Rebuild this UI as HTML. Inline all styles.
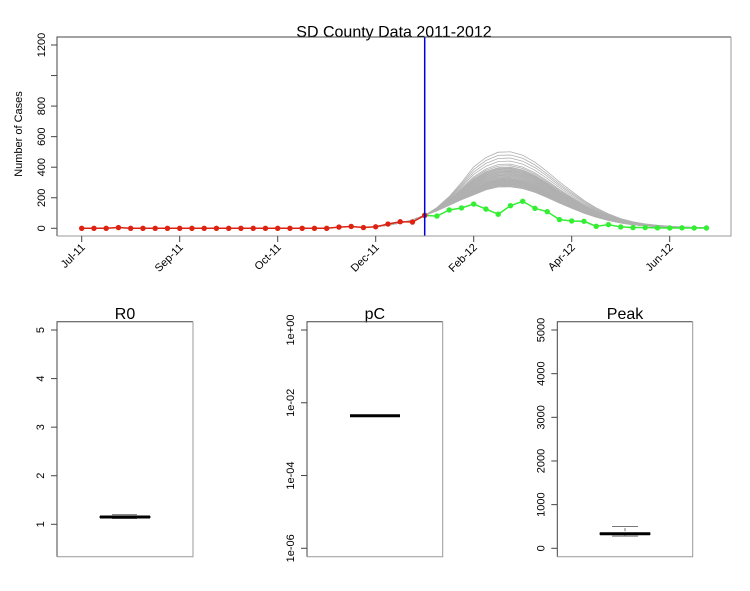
<!DOCTYPE html>
<html><head><meta charset="utf-8"><style>
body{margin:0;background:#fff;width:750px;height:586px;overflow:hidden}
svg{font-family:"Liberation Sans",sans-serif}
</style></head><body>
<svg id="s" width="750" height="586"></svg>
<script>
const xLabels=["Jul-11","Sep-11","Oct-11","Dec-11","Feb-12","Apr-12","Jun-12"];
const xTickIdx=[0,8,16,24,32,40,48];
const yTicks=[0,200,400,600,800,1000,1200];
const yTickLabels=["0","200","400","600","800","","1200"];
const observedRed=[0,0,0,5,0,0,0,0,0,0,0,0,0,0,0,0,0,0,0,0,0,8,12,5,10,28,43,41,85];
const observedGreen=[85,80,120,133,159,126,92,148,177,131,109,57,48,46,13,24,9,5,5,3,2,3,2,2];
const simShape=[10,20,35,55,85,120,165,215,265,305,328,330,315,285,245,200,160,120,88,62,42,28,19,13,9,6,4,3];
const simPeaks=[272,276,280,283,285,288,290,293,295,298,300,303,305,308,310,313,315,318,320,323,325,330,335,340,345,350,355,360,365,370,375,380,385,390,395,400,410,420,440,460,480,501];
const r0Stats=[1.12,1.14,1.15,1.16,1.2];
const pcStats=[0.0044,0.0044,0.0044,0.0044,0.0044];
const peakStats=[280,320,334,350,500];
const NS='http://www.w3.org/2000/svg';
const s=document.getElementById('s');
function el(t,a,p){const e=document.createElementNS(NS,t);for(const k in a)e.setAttribute(k,a[k]);(p||s).appendChild(e);return e;}
const X=i=>81.7+i*12.25, Y=v=>228.3-v*0.15275;
const g=el('g',{});
let t=el('text',{x:394,y:37,'font-size':16,'text-anchor':'middle'},g);t.textContent='SD County Data 2011-2012';

const peakMax=Math.max(...simShape);
simPeaks.forEach(pk=>{const f=pk/peakMax;let d='';simShape.forEach((v,j)=>{const i=24+j;const w=Math.min(1,Math.max(0,(i-28)/4));const val=v*(1+(f-1)*w);d+=(j?'L':'M')+X(i).toFixed(1)+','+Y(val).toFixed(1);});
const p=el('path',{d:d,fill:'none',stroke:'#b0b0b0','stroke-width':0.8},g);

});
function series(vals,off,col,name){let d='';vals.forEach((v,j)=>d+=(j?'L':'M')+X(off+j)+','+Y(v));
const p=el('path',{d:d,fill:'none',stroke:col,'stroke-width':1.5},g);


vals.forEach((v,j)=>{const c=el('circle',{cx:X(off+j),cy:Y(v),r:2.7,fill:col},g);

});}
series(observedGreen,28,'#33ee33','green-observed');
series(observedRed,0,'#dd2211','red-observed');
let bl=el('line',{x1:X(28),x2:X(28),y1:37,y2:236,stroke:'#0000dd','stroke-width':1.5},g);

el('path',{d:'M57,236V37H731',fill:'none',stroke:'#444'},g);
el('path',{d:'M731,37V236H57',fill:'none',stroke:'#999'},g);
yTicks.forEach((v,k)=>{el('line',{x1:51,x2:57,y1:Y(v),y2:Y(v),stroke:'#444'},g);
const tx=el('text',{x:45,y:Y(v),'font-size':11,'text-anchor':'middle',transform:`rotate(-90 45 ${Y(v)})`},g);tx.textContent=yTickLabels[k];
});
let yt=el('text',{x:22,y:134,'font-size':11,'text-anchor':'middle',transform:'rotate(-90 22 134)'},g);yt.textContent='Number of Cases';

xTickIdx.forEach((i,k)=>{el('line',{x1:X(i),x2:X(i),y1:236,y2:242,stroke:'#444'},g);
const tx=el('text',{x:X(i)+4,y:248,'font-size':11,'text-anchor':'end',transform:`rotate(-45 ${X(i)+4} 248)`},g);tx.textContent=xLabels[k];
});
function panel(name,x0,x1,ticks,labels,Yf,st,bx0,bx1,cx0,cx1){
const pg=el('g',{});
const tt=el('text',{x:(x0+x1)/2,y:319,'font-size':16,'text-anchor':'middle'},pg);tt.textContent=name;
el('path',{d:`M${x0},556.7V321.7H${x1}`,fill:'none',stroke:'#444'},pg);
el('path',{d:`M${x1},321.7V556.7H${x0}`,fill:'none',stroke:'#999'},pg);
ticks.forEach((v,k)=>{const y=Yf(v);el('line',{x1:x0-6,x2:x0,y1:y,y2:y,stroke:'#444'},pg);
const tx=el('text',{x:x0-13,y:y,'font-size':11,'text-anchor':'middle',transform:`rotate(-90 ${x0-13} ${y})`},pg);tx.textContent=labels[k];});
const m=(bx0+bx1)/2;
el('line',{x1:m,x2:m,y1:Yf(st[0]),y2:Yf(st[4]),stroke:'#777','stroke-dasharray':'3,2'},pg);
el('line',{x1:cx0,x2:cx1,y1:Yf(st[0]),y2:Yf(st[0]),stroke:'#777'},pg);
el('line',{x1:cx0,x2:cx1,y1:Yf(st[4]),y2:Yf(st[4]),stroke:'#777'},pg);
const y1=Yf(st[3]),y3=Yf(st[1]);
el('rect',{x:bx0,y:y1,width:bx1-bx0,height:Math.max(0,y3-y1),fill:'#fff',stroke:'#333'},pg);
el('line',{x1:bx0,x2:bx1,y1:Yf(st[2]),y2:Yf(st[2]),stroke:'#000','stroke-width':3},pg);}
panel('R0',57,193,[1,2,3,4,5],['1','2','3','4','5'],v=>524.3-(v-1)*48.57,r0Stats,100,150,112,137);
panel('pC',307,442.7,[1,1e-2,1e-4,1e-6],['1e+00','1e-02','1e-04','1e-06'],v=>330-Math.log10(v)*36.38,pcStats,350,400,362,388);
panel('Peak',557.3,692.7,[0,1000,2000,3000,4000,5000],['0','1000','2000','3000','4000','5000'],v=>548.3-v*0.04366,peakStats,600,650,612,638);
</script>
</body></html>
